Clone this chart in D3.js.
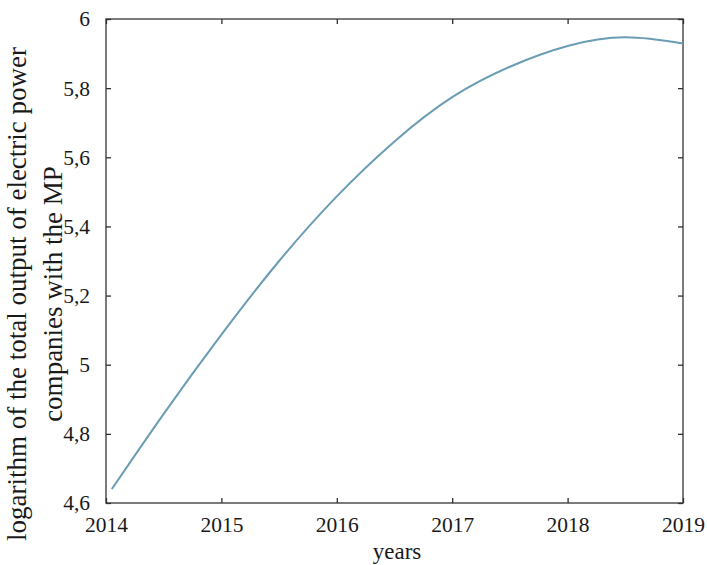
<!DOCTYPE html>
<html>
<head>
<meta charset="utf-8">
<script src="https://cdn.jsdelivr.net/npm/d3@7"></script>
<style>
  html, body { margin: 0; padding: 0; background: #fff; }
  svg { display: block; }
  text { font-family: "Liberation Serif", "Times New Roman", "DejaVu Serif", serif; fill: #1a1a1a; }
</style>
</head>
<body>
<svg id="chart" width="707" height="565"></svg>
<script>
// Data
const years = [2014.05, 2014.5, 2015, 2015.5, 2016, 2016.5, 2017, 2017.5, 2018, 2018.5, 2019];
const logOutput = [4.640, 4.858, 5.087, 5.300, 5.487, 5.646, 5.774, 5.862, 5.922, 5.947, 5.929];
const xTicks = [2014, 2015, 2016, 2017, 2018, 2019];
const yTicks = [4.6, 4.8, 5.0, 5.2, 5.4, 5.6, 5.8, 6.0];
const yLabelLines = ["logarithm of the total output of electric power", "companies with the MP"];
const xLabel = "years";

(function () {
const svg = d3.select("#chart");
const mL = 106, mR = 683, mT = 19, mB = 503;
const serif = "Liberation Serif, Times New Roman, serif";

const x = d3.scaleLinear().domain([2014, 2019]).range([mL, mR]);
const y = d3.scaleLinear().domain([4.6, 6]).range([mB, mT]);

const fmtY = v => d3.format("~g")(v).replace(".", ",");

// Frame
svg.append("rect")
  .attr("x", mL).attr("y", mT)
  .attr("width", mR - mL).attr("height", mB - mT)
  .attr("fill", "none").attr("stroke", "#505050").attr("stroke-width", 1.5);

// Bottom axis (inward ticks)
const gx = svg.append("g").attr("transform", `translate(0,${mB})`)
  .call(d3.axisBottom(x).tickValues(xTicks).tickSize(-5).tickPadding(14).tickFormat(d3.format("d")));
gx.select(".domain").remove();
gx.selectAll(".tick line").attr("stroke", "#303030").attr("stroke-width", 1.3);
gx.selectAll(".tick text").attr("font-size", 21.5).attr("font-family", serif).attr("fill", "#1a1a1a");

// Top mirror ticks
const gxt = svg.append("g").attr("transform", `translate(0,${mT})`)
  .call(d3.axisTop(x).tickValues(xTicks).tickSize(-5).tickFormat(""));
gxt.select(".domain").remove();
gxt.selectAll(".tick line").attr("stroke", "#303030").attr("stroke-width", 1.3);

// Left axis
const gy = svg.append("g").attr("transform", `translate(${mL},0)`)
  .call(d3.axisLeft(y).tickValues(yTicks).tickSize(-5).tickPadding(16).tickFormat(fmtY));
gy.select(".domain").remove();
gy.selectAll(".tick line").attr("stroke", "#303030").attr("stroke-width", 1.3);
gy.selectAll(".tick text").attr("font-size", 21.5).attr("font-family", serif).attr("fill", "#1a1a1a");

// Right mirror ticks
const gyr = svg.append("g").attr("transform", `translate(${mR},0)`)
  .call(d3.axisRight(y).tickValues(yTicks).tickSize(-5).tickFormat(""));
gyr.select(".domain").remove();
gyr.selectAll(".tick line").attr("stroke", "#303030").attr("stroke-width", 1.3);

// Curve
const pts = years.map((t, i) => [t, logOutput[i]]);
svg.append("path")
  .datum(pts)
  .attr("fill", "none")
  .attr("stroke", "#6a9cb3")
  .attr("stroke-width", 2)
  .attr("d", d3.line().x(d => x(d[0])).y(d => y(d[1])).curve(d3.curveNatural));

// Axis titles
svg.append("text")
  .attr("x", 397).attr("y", 559)
  .attr("text-anchor", "middle").attr("font-size", 23)
  .text(xLabel);

const yl = svg.append("text")
  .attr("transform", `translate(0,294) rotate(-90)`)
  .attr("text-anchor", "middle").attr("font-size", 27);
yl.append("tspan").attr("x", 0).attr("y", 26).text(yLabelLines[0]);
yl.append("tspan").attr("x", 0).attr("y", 62).text(yLabelLines[1]);
})();
</script>
</body>
</html>
